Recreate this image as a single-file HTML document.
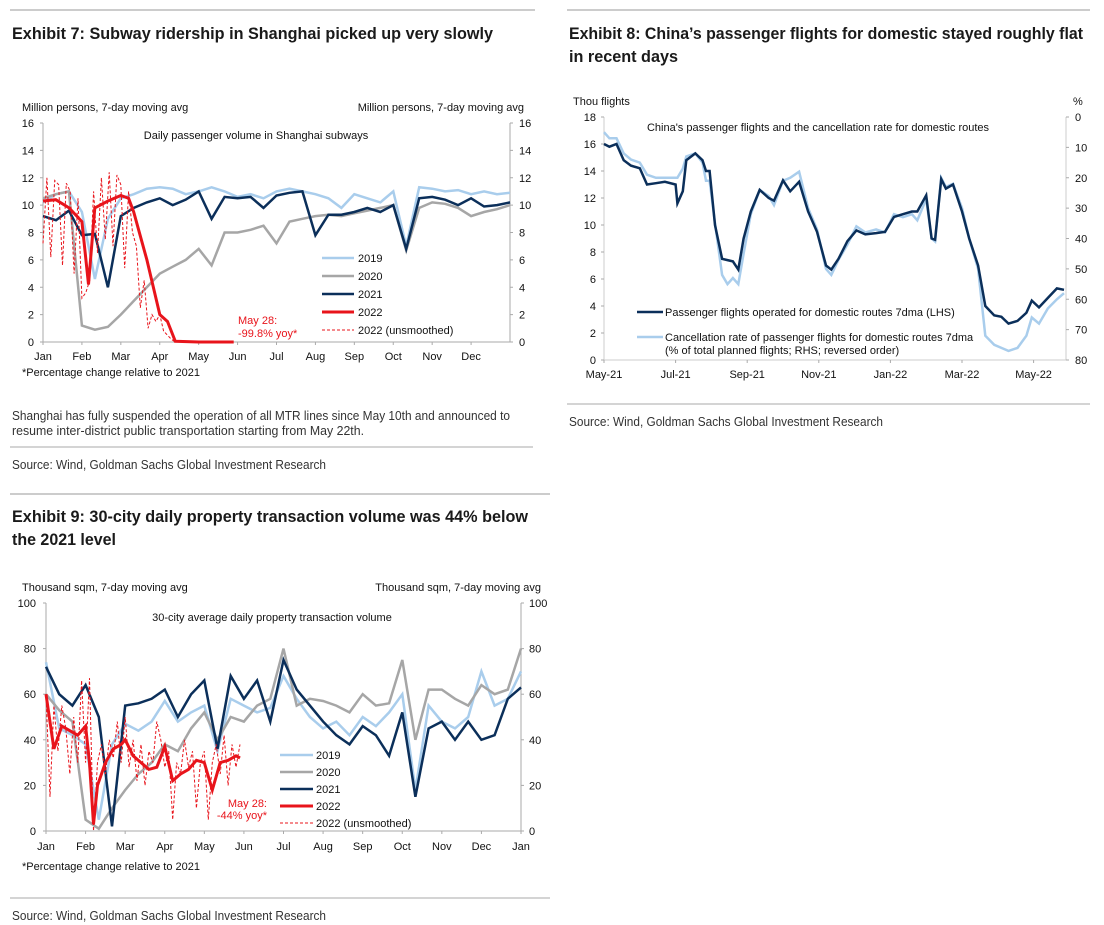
<!DOCTYPE html>
<html><head><meta charset="utf-8"><style>
html,body{margin:0;padding:0;background:#fff}
svg{display:block;font-family:"Liberation Sans",Arial,sans-serif}
.t{font-size:11px;fill:#111}
.ttl{font-size:17px;font-weight:bold;fill:#1a1a1a}
.note{font-size:13px;fill:#333}
</style></head><body>
<svg id="page" width="1104" height="925" viewBox="0 0 1104 925" xmlns="http://www.w3.org/2000/svg">
<line x1="10" y1="10" x2="535" y2="10" stroke="#999"/>
<line x1="567" y1="10" x2="1090" y2="10" stroke="#999"/>
<text class="ttl" x="12" y="39" textLength="481" lengthAdjust="spacingAndGlyphs">Exhibit 7: Subway ridership in Shanghai picked up very slowly</text>
<text class="ttl" x="569" y="39" textLength="514" lengthAdjust="spacingAndGlyphs">Exhibit 8: China’s passenger flights for domestic stayed roughly flat</text>
<text class="ttl" x="569" y="62" textLength="109" lengthAdjust="spacingAndGlyphs">in recent days</text>
<text class="t" x="22" y="376">*Percentage change relative to 2021</text>
<text class="note" x="12" y="420" textLength="498" lengthAdjust="spacingAndGlyphs">Shanghai has fully suspended the operation of all MTR lines since May 10th and announced to</text>
<text class="note" x="12" y="435" textLength="352" lengthAdjust="spacingAndGlyphs">resume inter-district public transportation starting from May 22th.</text>
<line x1="10" y1="447" x2="533" y2="447" stroke="#aaa"/>
<text class="note" x="12" y="469" textLength="314" lengthAdjust="spacingAndGlyphs">Source: Wind, Goldman Sachs Global Investment Research</text>
<line x1="10" y1="494" x2="550" y2="494" stroke="#999"/>
<text class="ttl" x="12" y="522" textLength="516" lengthAdjust="spacingAndGlyphs">Exhibit 9: 30-city daily property transaction volume was 44% below</text>
<text class="ttl" x="12" y="545" textLength="104" lengthAdjust="spacingAndGlyphs">the 2021 level</text>
<text class="t" x="22" y="870">*Percentage change relative to 2021</text>
<line x1="10" y1="898" x2="550" y2="898" stroke="#aaa"/>
<text class="note" x="12" y="920" textLength="314" lengthAdjust="spacingAndGlyphs">Source: Wind, Goldman Sachs Global Investment Research</text>
<line x1="567" y1="404" x2="1090" y2="404" stroke="#aaa"/>
<text class="note" x="569" y="426" textLength="314" lengthAdjust="spacingAndGlyphs">Source: Wind, Goldman Sachs Global Investment Research</text>
<g id="c1"></g><g id="c2"></g><g id="c3"></g>
</svg>
<script>
// ---------- Chart 1 data (month index 0..12, step 1/3) ----------
const months1 = ["Jan","Feb","Mar","Apr","May","Jun","Jul","Aug","Sep","Oct","Nov","Dec"];
const ticks1 = [0,2,4,6,8,10,12,14,16];
const sub2019 = [10.2,10.8,11.0,9.5,4.6,9.0,10.5,10.8,11.2,11.3,11.2,10.8,11.0,11.3,11.0,10.6,10.8,10.5,11.0,11.2,11.0,10.8,10.5,9.8,10.8,10.5,10.2,11.0,7.0,11.3,11.2,11.0,11.1,10.8,11.0,10.8,10.9];
const sub2020 = [10.5,10.8,11.0,1.2,0.9,1.1,2.0,3.0,4.0,5.0,5.5,6.0,6.8,5.6,8.0,8.0,8.2,8.5,7.2,8.8,9.0,9.2,9.3,9.2,9.4,9.6,9.8,10.0,6.7,9.8,10.2,10.1,9.8,9.2,9.5,9.7,10.0];
const sub2021 = [9.2,8.9,9.6,7.8,7.9,4.0,9.2,9.8,10.2,10.5,10.0,10.4,11.0,9.0,10.6,10.5,10.6,9.8,10.7,10.9,11.0,7.8,9.3,9.3,9.5,9.8,9.5,10.0,6.8,10.5,10.6,10.4,10.0,10.5,9.9,10.0,10.2];
const sub2022x = [0,0.33,0.67,1.0,1.17,1.33,1.67,2.0,2.2,2.33,2.67,3.0,3.2,3.4,4.0,4.5,4.9];
const sub2022 = [10.3,10.4,9.8,8.8,4.2,9.8,10.3,10.7,10.5,9.5,6.0,2.0,1.5,0.05,0,0,0];
const sub2022rawX = [0,0.1,0.2,0.3,0.4,0.5,0.6,0.7,0.8,0.9,1.0,1.1,1.2,1.3,1.4,1.5,1.6,1.7,1.8,1.9,2.0,2.1,2.2,2.3,2.4,2.5,2.6,2.7,2.8,2.9,3.0,3.1,3.2,3.3,3.4,3.6];
const sub2022raw = [7.2,12.0,6.2,11.8,11.5,5.6,11.6,11.0,5.0,10.5,3.2,3.6,4.5,11.0,6.5,12.0,7.5,12.4,7.0,12.2,11.5,5.4,11.0,8.0,7.0,2.5,4.5,1.0,2.0,1.5,2.0,0.8,0.5,0.2,0,0];
// ---------- Chart 2 data (months since May-21) ----------
const months2 = ["May-21","Jul-21","Sep-21","Nov-21","Jan-22","Mar-22","May-22"];
const ticks2L = [0,2,4,6,8,10,12,14,16,18];
const ticks2R = [0,10,20,30,40,50,60,70,80];
const flX = [0,0.15,0.35,0.55,0.75,1.0,1.2,1.45,1.7,2.0,2.05,2.2,2.3,2.55,2.75,2.85,2.95,3.1,3.3,3.45,3.6,3.75,3.9,4.1,4.35,4.6,4.75,5.0,5.2,5.45,5.7,5.95,6.2,6.35,6.55,6.8,7.05,7.3,7.6,7.85,8.1,8.35,8.6,8.75,9.0,9.15,9.25,9.42,9.55,9.75,10.0,10.2,10.45,10.65,10.9,11.1,11.3,11.55,11.8,11.95,12.15,12.4,12.65,12.85];
const flights = [16.0,15.8,16.0,14.8,14.4,14.2,13.0,13.1,13.2,13.0,11.6,12.5,14.8,15.3,14.8,14.0,14.0,10.0,7.5,7.4,7.3,6.7,9.0,11.0,12.6,12.0,11.8,13.3,12.5,13.2,11.0,9.5,7.0,6.7,7.5,8.8,9.6,9.3,9.4,9.5,10.6,10.8,11.0,11.0,12.2,9.0,8.9,13.4,12.7,13.0,11.0,9.0,7.0,4.0,3.3,3.2,2.7,2.9,3.5,4.4,3.9,4.6,5.3,5.2];
const cancel = [5,7,7,12,14,15,19,20,20,20,20,17,13,12,15,21,21,35,52,55,53,55,45,32,24,26,29,21,20,18,30,37,50,52,47,42,36,38,37,38,32,33,32,34,27,40,41,20,23,22,30,40,50,72,75,76,77,76,72,66,68,63,60,58];
// ---------- Chart 3 data ----------
const months3 = ["Jan","Feb","Mar","Apr","May","Jun","Jul","Aug","Sep","Oct","Nov","Dec","Jan"];
const ticks3 = [0,20,40,60,80,100];
const pr2019 = [74,45,42,38,5,38,47,44,48,57,48,52,55,35,58,55,52,54,68,58,50,45,48,42,50,46,52,60,18,55,48,45,50,70,55,58,70];
const pr2020 = [60,53,48,5,1,10,18,25,30,38,35,45,52,40,50,48,55,58,80,55,58,57,55,52,60,55,56,75,40,62,62,58,55,64,60,62,80];
const pr2021 = [72,60,55,64,50,2,55,56,58,62,50,60,66,36,68,58,66,48,75,62,55,48,42,38,46,42,33,52,15,45,48,40,48,40,42,58,63];
const pr2022x = [0,0.2,0.4,0.6,0.8,1.0,1.1,1.2,1.3,1.5,1.7,1.9,2.0,2.2,2.4,2.6,2.8,3.0,3.2,3.4,3.6,3.8,4.0,4.2,4.4,4.6,4.8,4.9];
const pr2022 = [60,36,46,44,42,46,30,3,20,30,36,38,40,33,30,27,28,37,22,25,27,31,30,18,30,31,33,32];
const pr2022raw = [60,15,55,35,55,45,25,50,30,66,30,67,0,30,38,25,40,32,48,30,50,28,40,22,38,20,35,30,48,40,28,35,5,30,25,40,28,35,10,30,35,5,30,38,25,42,20,38,28,38];

const NS="http://www.w3.org/2000/svg";
function mk(parent,tag,attrs,txt){const e=document.createElementNS(NS,tag);for(const k in attrs)e.setAttribute(k,attrs[k]);if(txt!==undefined)e.textContent=txt;parent.appendChild(e);return e;}
function pathD(xs,ys,fx,fy){return xs.map((x,i)=>(i?"L":"M")+fx(x).toFixed(1)+","+fy(ys[i]).toFixed(1)).join("");}
const step=i=>i/3;

// ===== Chart 1 =====
(function(){
const g=document.getElementById('c1');
const X0=43,X1=510,Y0=342,Y1=123;
const fx=m=>X0+(X1-X0)*m/12, fy=v=>Y0-(Y0-Y1)*v/16;
let e;
e=mk(g,'text',{class:'t',x:22,y:111});e.textContent='Million persons, 7-day moving avg';

e=mk(g,'text',{class:'t',x:524,y:111,'text-anchor':'end'},'Million persons, 7-day moving avg');

e=mk(g,'text',{class:'t',x:256,y:139,'text-anchor':'middle'},'Daily passenger volume in Shanghai subways');

mk(g,'path',{d:`M${X0},${Y1}V${Y0}H${X1}V${Y1}`,fill:'none',stroke:'#aaa'});
ticks1.forEach(v=>{
  e=mk(g,'text',{class:'t',x:X0-9,y:fy(v)+4,'text-anchor':'end'},v);
  
  e=mk(g,'text',{class:'t',x:X1+9,y:fy(v)+4},v);
  
  mk(g,'line',{x1:X0-3,x2:X0,y1:fy(v),y2:fy(v),stroke:'#aaa'});
  mk(g,'line',{x1:X1,x2:X1+3,y1:fy(v),y2:fy(v),stroke:'#aaa'});
});
months1.forEach((m,i)=>{
  e=mk(g,'text',{class:'t',x:fx(i),y:360,'text-anchor':'middle'},m);
  
  mk(g,'line',{x1:fx(i),x2:fx(i),y1:Y0,y2:Y0+3,stroke:'#aaa'});
});
const xs=sub2019.map((_,i)=>step(i));
e=mk(g,'path',{d:pathD(xs,sub2019,fx,fy),fill:'none',stroke:'#a9cdec','stroke-width':2.5});

e=mk(g,'path',{d:pathD(xs,sub2020,fx,fy),fill:'none',stroke:'#a6a6a6','stroke-width':2.5});

e=mk(g,'path',{d:pathD(xs,sub2021,fx,fy),fill:'none',stroke:'#0b2f5a','stroke-width':2.5});

e=mk(g,'path',{d:pathD(sub2022rawX,sub2022raw,fx,fy),fill:'none',stroke:'#e8141b','stroke-width':1,'stroke-dasharray':'3,2'});

e=mk(g,'path',{d:pathD(sub2022x,sub2022,fx,fy),fill:'none',stroke:'#e8141b','stroke-width':3});

const leg=[['2019','#a9cdec',2.5,''],['2020','#a6a6a6',2.5,''],['2021','#0b2f5a',2.5,''],['2022','#e8141b',3,''],['2022 (unsmoothed)','#e8141b',1,'3,2']];
leg.forEach((l,i)=>{const y=258+i*18;
  mk(g,'line',{x1:322,x2:354,y1:y,y2:y,stroke:l[1],'stroke-width':l[2],'stroke-dasharray':l[3]});
  e=mk(g,'text',{class:'t',x:358,y:y+4},l[0]);
  
});
e=mk(g,'text',{class:'t',x:238,y:324,style:'fill:#e8141b'},'May 28:');

e=mk(g,'text',{class:'t',x:238,y:337,style:'fill:#e8141b'},'-99.8% yoy*');

})();

// ===== Chart 2 =====
(function(){
const g=document.getElementById('c2');
const X0=604,X1=1066,Y0=360,Y1=117,PM=35.8;
const fx=m=>X0+PM*m, fy=v=>Y0-(Y0-Y1)*v/18, fr=v=>Y1+(Y0-Y1)*v/80;
let e;
e=mk(g,'text',{class:'t',x:573,y:105},'Thou flights');

e=mk(g,'text',{class:'t',x:1073,y:105},'%');

e=mk(g,'text',{class:'t',x:818,y:131,'text-anchor':'middle'},"China's passenger flights and the cancellation rate for domestic routes");

mk(g,'path',{d:`M${X0},${Y1}V${Y0}H${X1}V${Y1}`,fill:'none',stroke:'#ccc'});
ticks2L.forEach(v=>{
  e=mk(g,'text',{class:'t',x:X0-8,y:fy(v)+4,'text-anchor':'end'},v);
  
  mk(g,'line',{x1:X0-3,x2:X0,y1:fy(v),y2:fy(v),stroke:'#aaa'});
});
ticks2R.forEach(v=>{
  e=mk(g,'text',{class:'t',x:X1+9,y:fr(v)+4},v);
  
  mk(g,'line',{x1:X1,x2:X1+3,y1:fr(v),y2:fr(v),stroke:'#aaa'});
});
months2.forEach((m,i)=>{
  e=mk(g,'text',{class:'t',x:fx(i*2),y:378,'text-anchor':'middle'},m);
  
  mk(g,'line',{x1:fx(i*2),x2:fx(i*2),y1:Y0,y2:Y0+3,stroke:'#aaa'});
});
e=mk(g,'path',{d:pathD(flX,cancel,fx,fr),fill:'none',stroke:'#a9cdec','stroke-width':2.5});

e=mk(g,'path',{d:pathD(flX,flights,fx,fy),fill:'none',stroke:'#0b2f5a','stroke-width':2.5});

mk(g,'line',{x1:637,x2:663,y1:312,y2:312,stroke:'#0b2f5a','stroke-width':2.5});
e=mk(g,'text',{class:'t',x:665,y:316},'Passenger flights operated for domestic routes 7dma (LHS)');

mk(g,'line',{x1:637,x2:663,y1:337,y2:337,stroke:'#a9cdec','stroke-width':2.5});
e=mk(g,'text',{class:'t',x:665,y:341},'Cancellation rate of passenger flights for domestic routes 7dma');

e=mk(g,'text',{class:'t',x:665,y:354},'(% of total planned flights; RHS; reversed order)');

})();

// ===== Chart 3 =====
(function(){
const g=document.getElementById('c3');
const X0=46,X1=521,Y0=831,Y1=603;
const fx=m=>X0+(X1-X0)*m/12, fy=v=>Y0-(Y0-Y1)*v/100;
let e;
e=mk(g,'text',{class:'t',x:22,y:591},'Thousand sqm, 7-day moving avg');

e=mk(g,'text',{class:'t',x:541,y:591,'text-anchor':'end'},'Thousand sqm, 7-day moving avg');

e=mk(g,'text',{class:'t',x:272,y:621,'text-anchor':'middle'},'30-city average daily property transaction volume');

mk(g,'path',{d:`M${X0},${Y1}V${Y0}H${X1}V${Y1}`,fill:'none',stroke:'#aaa'});
ticks3.forEach(v=>{
  e=mk(g,'text',{class:'t',x:X0-10,y:fy(v)+4,'text-anchor':'end'},v);
  
  e=mk(g,'text',{class:'t',x:X1+8,y:fy(v)+4},v);
  
  mk(g,'line',{x1:X0-3,x2:X0,y1:fy(v),y2:fy(v),stroke:'#aaa'});
  mk(g,'line',{x1:X1,x2:X1+3,y1:fy(v),y2:fy(v),stroke:'#aaa'});
});
months3.forEach((m,i)=>{
  e=mk(g,'text',{class:'t',x:fx(i),y:850,'text-anchor':'middle'},m);
  
  mk(g,'line',{x1:fx(i),x2:fx(i),y1:Y0,y2:Y0+3,stroke:'#aaa'});
});
const xs=pr2019.map((_,i)=>step(i));
e=mk(g,'path',{d:pathD(xs,pr2019,fx,fy),fill:'none',stroke:'#a9cdec','stroke-width':2.5});

e=mk(g,'path',{d:pathD(xs,pr2020,fx,fy),fill:'none',stroke:'#a6a6a6','stroke-width':2.5});

e=mk(g,'path',{d:pathD(xs,pr2021,fx,fy),fill:'none',stroke:'#0b2f5a','stroke-width':2.5});

const rx=pr2022raw.map((_,i)=>i*0.1);
e=mk(g,'path',{d:pathD(rx,pr2022raw,fx,fy),fill:'none',stroke:'#e8141b','stroke-width':1,'stroke-dasharray':'3,2'});

e=mk(g,'path',{d:pathD(pr2022x,pr2022,fx,fy),fill:'none',stroke:'#e8141b','stroke-width':3});

const leg=[['2019','#a9cdec',2.5,''],['2020','#a6a6a6',2.5,''],['2021','#0b2f5a',2.5,''],['2022','#e8141b',3,''],['2022 (unsmoothed)','#e8141b',1,'3,2']];
leg.forEach((l,i)=>{const y=755+i*17;
  mk(g,'line',{x1:280,x2:313,y1:y,y2:y,stroke:l[1],'stroke-width':l[2],'stroke-dasharray':l[3]});
  e=mk(g,'text',{class:'t',x:316,y:y+4},l[0]);
  
});
e=mk(g,'text',{class:'t',x:267,y:807,'text-anchor':'end',style:'fill:#e8141b'},'May 28:');

e=mk(g,'text',{class:'t',x:267,y:819,'text-anchor':'end',style:'fill:#e8141b'},'-44% yoy*');

})();
</script>
</body></html>
